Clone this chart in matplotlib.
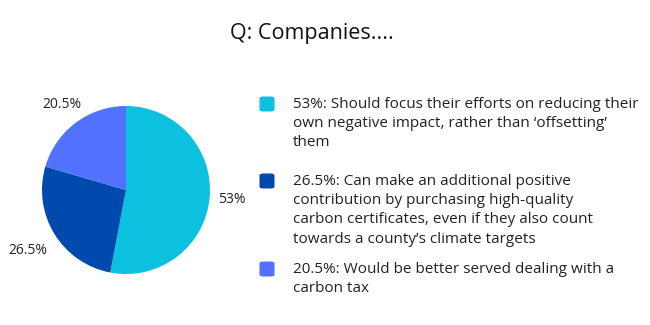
import numpy as np
import matplotlib.pyplot as plt
from matplotlib.patches import FancyBboxPatch

# data
shares = [53, 26.5, 20.5]
share_labels = ["53%", "26.5%", "20.5%"]
descriptions = [
    "Should focus their efforts on reducing their\nown negative impact, rather than \u2018offsetting\u2019\nthem",
    "Can make an additional positive\ncontribution by purchasing high-quality\ncarbon certificates, even if they also count\ntowards a county\u2019s climate targets",
    "Would be better served dealing with a\ncarbon tax",
]
colors = ["#0CC0DF", "#004AAD", "#5271FF"]

plt.rcParams['font.family'] = ['Open Sans', 'DejaVu Sans']

W, H = 650, 325
fig = plt.figure(figsize=(6.5, 3.25), dpi=100)

fig.text(312 / W, 1 - 33 / H, "Q: Companies....", ha='center', va='center',
         fontsize=15.5, color='#111111')

# pie
cx, cy, r = 126, 190, 84
ax = fig.add_axes([(cx - r) / W, 1 - (cy + r) / H, 2 * r / W, 2 * r / H])
wedges, texts = ax.pie(shares, labels=share_labels, colors=colors, startangle=90,
                       counterclock=False, labeldistance=1.27,
                       wedgeprops=dict(linewidth=0))
label_dist = [1.26, 1.37, 1.28]
for w, t, d in zip(wedges, texts, label_dist):
    ang = np.deg2rad((w.theta1 + w.theta2) / 2)
    t.set_position((d * np.cos(ang), d * np.sin(ang)))
    t.set_ha('center')
    t.set_va('center')
    t.set_fontsize(10)
    t.set_color('#222222')
    t.set_clip_on(False)
ax.set_xlim(-1, 1)
ax.set_ylim(-1, 1)
ax.set_aspect('equal')

# legend, drawn by hand
item_y = [104, 181, 269]
for lab, desc, col, y in zip(share_labels, descriptions, colors, item_y):
    sq = 15
    box = FancyBboxPatch(((267 - sq / 2) / W, 1 - (y + sq / 2) / H), sq / W, sq / H,
                         boxstyle="round,pad=0,rounding_size=0.006",
                         transform=fig.transFigure, facecolor=col, edgecolor='none')
    fig.patches.append(box)
    fig.text(293 / W, 1 - (y - 7) / H, f"{lab}: {desc}", ha='left', va='top',
             fontsize=11, color='#222222', linespacing=1.38)

fig.savefig("out.png", dpi=100)
